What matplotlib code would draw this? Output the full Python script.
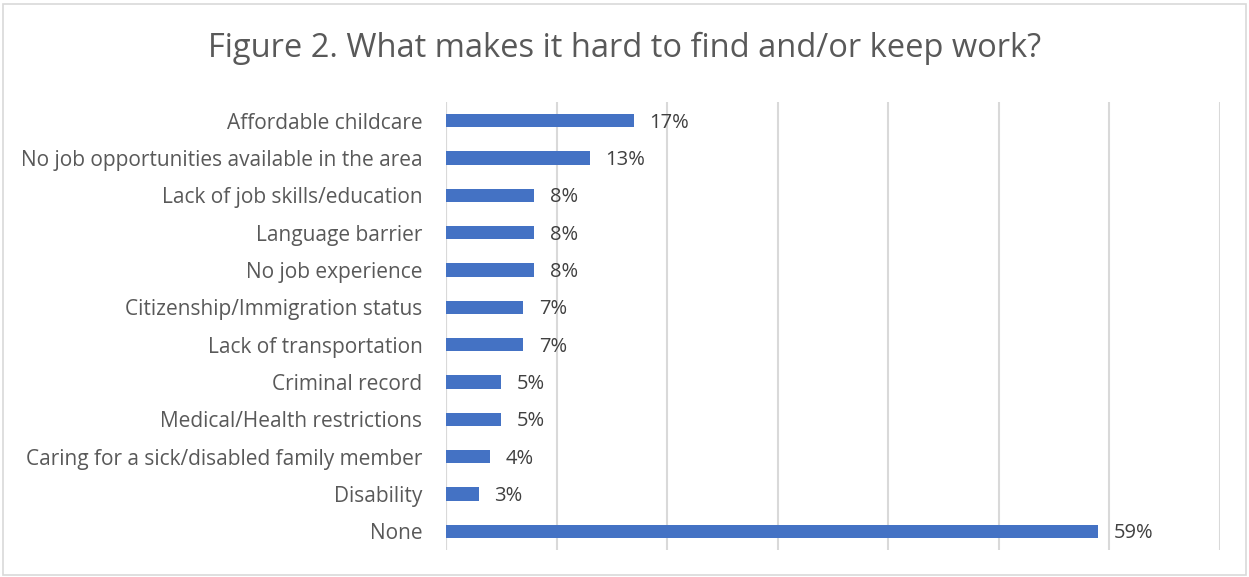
import matplotlib.pyplot as plt
from matplotlib.patches import Rectangle

categories = [
    'Affordable childcare',
    'No job opportunities available in the area',
    'Lack of job skills/education',
    'Language barrier',
    'No job experience',
    'Citizenship/Immigration status',
    'Lack of transportation',
    'Criminal record',
    'Medical/Health restrictions',
    'Caring for a sick/disabled family member',
    'Disability',
    'None',
]
values = [17, 13, 8, 8, 8, 7, 7, 5, 5, 4, 3, 59]

plt.rcParams['font.family'] = ['Open Sans', 'DejaVu Sans']

fig = plt.figure(figsize=(12.49, 5.77), dpi=100)
ax = fig.add_axes([446 / 1249, 1 - 550 / 577, (1220 - 446) / 1249, (550 - 102) / 577])

y = list(range(len(categories)))
ax.barh(y, values, height=0.35, color='#4472C4', zorder=3)
for yi, v in zip(y, values):
    ax.annotate(f'{v}%', (v, yi), xytext=(11, -1.5), textcoords='offset points',
                va='center', ha='left', fontsize=14.5, color='#404040')

ax.set_xlim(0, 70)
ax.set_ylim(len(categories) - 0.5, -0.5)
ax.set_xticks(range(0, 71, 10))
ax.set_xticklabels([])
ax.tick_params(axis='x', length=0)
ax.set_yticks(y)
ax.set_yticklabels(categories, fontsize=15, color='#595959')
ax.tick_params(axis='y', length=0, pad=17)
ax.grid(axis='x', color='#D9D9D9', linewidth=1.5, zorder=0)
for s in ax.spines.values():
    s.set_visible(False)
ax.axvline(0, color='#D9D9D9', linewidth=1.5, zorder=1)

fig.text(0.5, 1 - 48 / 577, 'Figure 2. What makes it hard to find and/or keep work?',
         ha='center', va='center', fontsize=23.5, color='#595959')

fig.patches.append(Rectangle((3 / 1249, 2 / 577), 1243 / 1249, 571 / 577,
                             transform=fig.transFigure, fill=False,
                             edgecolor='#D9D9D9', linewidth=1.2))

fig.savefig('out.png', dpi=100)
